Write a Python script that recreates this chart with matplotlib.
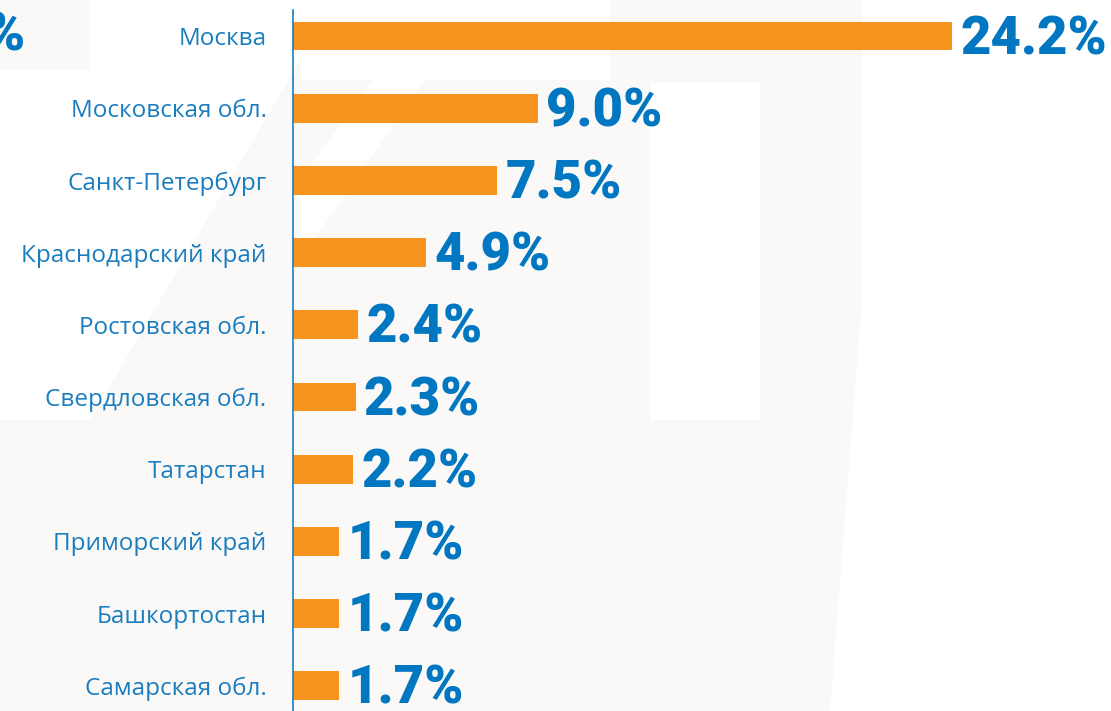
import matplotlib.pyplot as plt
from matplotlib.patches import Polygon

# data, top to bottom
regions = ['Москва', 'Московская обл.', 'Санкт-Петербург', 'Краснодарский край',
           'Ростовская обл.', 'Свердловская обл.', 'Татарстан', 'Приморский край',
           'Башкортостан', 'Самарская обл.']
shares = [24.2, 9.0, 7.5, 4.9, 2.4, 2.3, 2.2, 1.7, 1.7, 1.7]

ORANGE = '#f7941d'
BLUE = '#0077c0'
LABEL_BLUE = '#1a7dc0'
W, H = 1111, 711

fig = plt.figure(figsize=(11.11, 7.11), dpi=100)
fig.patch.set_facecolor('#faf9f8')

# faint watermark shapes (white on light grey), in pixel coords of the figure
def px_poly(pts, color='white'):
    xy = [(x / W, 1 - y / H) for x, y in pts]
    fig.patches.append(Polygon(xy, closed=True, transform=fig.transFigure,
                               facecolor=color, edgecolor='none', zorder=-10))

px_poly([(862, 0), (1111, 0), (1111, 711), (830, 711), (862, 300)])
px_poly([(650, 83), (760, 83), (760, 420), (650, 420)])
px_poly([(90, 0), (300, 0), (300, 60), (90, 420), (0, 420), (0, 70), (90, 70)])
px_poly([(430, 0), (480, 0), (300, 260), (300, 180)])
px_poly([(300, 0), (610, 0), (610, 80), (300, 80)])

ax = fig.add_axes([293 / W, 0, 1 - 293 / W, 1 - 10 / H])
ax.set_facecolor('none')

ypos = list(range(len(regions)))
ax.barh(ypos, shares, height=0.40, color=ORANGE, zorder=2)

ax.set_xlim(0, (W - 293) / 27.23)
ax.set_ylim(9.35, -0.36)

for y, v in zip(ypos, shares):
    ax.annotate(f'{v:.1f}%', (v, y), xytext=(6, -13), textcoords='offset points',
                ha='left', va='baseline', color=BLUE, fontsize=38,
                fontweight='black', family=['Roboto', 'DejaVu Sans'])

ax.set_yticks(ypos)
ax.set_yticklabels(regions, color=LABEL_BLUE, fontsize=17.5,
                   family=['Open Sans', 'DejaVu Sans'])
ax.tick_params(axis='y', length=0, pad=19)
ax.set_xticks([])

for s in ['top', 'right', 'bottom']:
    ax.spines[s].set_visible(False)
ax.spines['left'].set_color('#1a7dc0')
ax.spines['left'].set_linewidth(1.2)

# cut-off percent sign at the left edge
fig.text(25 / W, 1 - 36 / H, '%', ha='right', va='center', color=BLUE,
         fontsize=38, fontweight='black', family=['Roboto', 'DejaVu Sans'])

fig.savefig('out.png', dpi=100, facecolor=fig.get_facecolor())
